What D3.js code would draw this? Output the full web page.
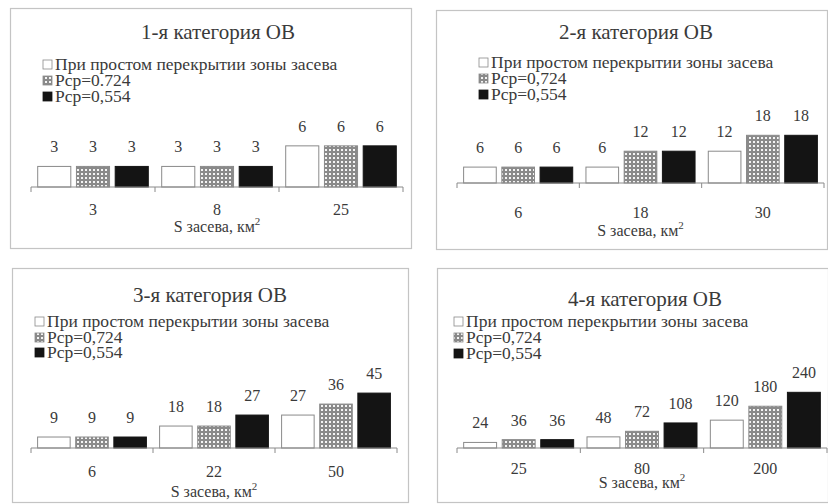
<!DOCTYPE html>
<html>
<head>
<meta charset="utf-8">
<script src="https://cdn.jsdelivr.net/npm/d3@7"></script>
</head>
<body style="margin:0;background:#fff">
<svg id="fig" width="828" height="504"></svg>
<script>
// ---- data ----
const panelTitles = ["1-я категория ОВ", "2-я категория ОВ", "3-я категория ОВ", "4-я категория ОВ"];
const xAxisTitle = "S засева, км";

const categories1 = ["3", "8", "25"];
const categories2 = ["6", "18", "30"];
const categories3 = ["6", "22", "50"];
const categories4 = ["25", "80", "200"];

const legend1 = ["При простом перекрытии зоны засева", "Рср=0.724", "Рср=0,554"];
const legend2 = ["При простом перекрытии зоны засева", "Рср=0,724", "Рср=0,554"];
const legend3 = ["При простом перекрытии зоны засева", "Рср=0,724", "Рср=0,554"];
const legend4 = ["При простом перекрытии зоны засева", "Рср=0,724", "Рср=0,554"];

const simple1 = [3, 3, 6],    p724_1 = [3, 3, 6],    p554_1 = [3, 3, 6];
const simple2 = [6, 6, 12],   p724_2 = [6, 12, 18],  p554_2 = [6, 12, 18];
const simple3 = [9, 18, 27],  p724_3 = [9, 18, 36],  p554_3 = [9, 27, 45];
const simple4 = [24, 48, 120], p724_4 = [36, 72, 180], p554_4 = [36, 108, 240];

const yMax = [7, 20, 50, 250];

const panels = [
  { title: panelTitles[0], cats: categories1, legend: legend1, series: [simple1, p724_1, p554_1], yMax: yMax[0] },
  { title: panelTitles[1], cats: categories2, legend: legend2, series: [simple2, p724_2, p554_2], yMax: yMax[1] },
  { title: panelTitles[2], cats: categories3, legend: legend3, series: [simple3, p724_3, p554_3], yMax: yMax[2] },
  { title: panelTitles[3], cats: categories4, legend: legend4, series: [simple4, p724_4, p554_4], yMax: yMax[3] }
];

// ---- layout of each chart box ----
const boxes = [
  { bx: 10,  by: 8,   bw: 401, bh: 240, tx: 218, ty: 39,  lx: 43,  ly: [65, 81, 97],    ax0: 31,  ax1: 403, ay: 187, ph: 48, cy: 215, aty: 232 },
  { bx: 436, by: 10,  bw: 391, bh: 239, tx: 636, ty: 39,  lx: 479, ly: [63, 79, 95],    ax0: 457, ax1: 824, ay: 183, ph: 53, cy: 218, aty: 236 },
  { bx: 12,  by: 268, bw: 396, bh: 234, tx: 210, ty: 302, lx: 35,  ly: [322, 338, 353], ax0: 31,  ax1: 397, ay: 448, ph: 61, cy: 477, aty: 497 },
  { bx: 437, by: 268, bw: 391, bh: 234, tx: 645, ty: 306, lx: 454, ly: [322, 338, 354], ax0: 457, ax1: 827, ay: 448, ph: 58, cy: 474, aty: 488 }
];

const svg = d3.select("#fig");
const textColor = "#3a3a3a";
const face = "'Liberation Serif'";

// text helper: serif face, grey ink
function label(sel, size) {
  return sel
    .attr("font-family", "Liberation Serif")
    .style("font-family", face)
    .attr("font-size", size)
    .attr("fill", textColor);
}

// hatched fill for the middle series: white cells on a grey grid
const defs = svg.append("defs");
const pat = defs.append("pattern")
  .attr("id", "grid").attr("patternUnits", "userSpaceOnUse")
  .attr("width", 4).attr("height", 4);
pat.append("rect").attr("width", 4).attr("height", 4).attr("fill", "#8a8a8a");
pat.append("rect").attr("x", 1).attr("y", 1).attr("width", 2).attr("height", 2).attr("fill", "#f4f4f4");

const fills = ["#ffffff", "url(#grid)", "#141414"];
const strokes = ["#8a8a8a", "#8a8a8a", "#141414"];

panels.forEach((p, i) => {
  const b = boxes[i];
  const g = svg.append("g");

  g.append("rect")
    .attr("x", b.bx + 0.5).attr("y", b.by + 0.5)
    .attr("width", b.bw).attr("height", b.bh)
    .attr("fill", "#fff").attr("stroke", "#c4c4c4").attr("stroke-width", 1.2);

  label(g.append("text"), 21)
    .attr("x", b.tx).attr("y", b.ty)
    .attr("text-anchor", "middle")
    .text(p.title);

  // legend
  p.legend.forEach((name, k) => {
    g.append("rect")
      .attr("x", b.lx).attr("y", b.ly[k] - 5)
      .attr("width", 9).attr("height", 9)
      .attr("fill", fills[k]).attr("stroke", strokes[k]).attr("stroke-width", 0.8);
    label(g.append("text"), 17.5)
      .attr("x", b.lx + 12).attr("y", b.ly[k] + 5)
      .text(name);
  });

  // scales
  const x0 = d3.scaleBand().domain(p.cats).range([b.ax0, b.ax1]).paddingInner(0.1).paddingOuter(0.05);
  const x1 = d3.scaleBand().domain(d3.range(p.series.length)).range([0, x0.bandwidth()]).paddingInner(0.12);
  const y = d3.scaleLinear().domain([0, p.yMax]).range([b.ay, b.ay - b.ph]);

  // bars with value labels
  p.series.forEach((vals, s) => {
    const gs = g.append("g");
    gs.selectAll("rect").data(vals).join("rect")
      .attr("x", (d, j) => x0(p.cats[j]) + x1(s) + 0.5)
      .attr("y", d => y(d))
      .attr("width", x1.bandwidth() - 1)
      .attr("height", d => y(0) - y(d))
      .attr("fill", fills[s]).attr("stroke", strokes[s]).attr("stroke-width", 1);
    label(gs.selectAll("text").data(vals).join("text"), 16)
      .attr("x", (d, j) => x0(p.cats[j]) + x1(s) + x1.bandwidth() / 2)
      .attr("y", d => y(d) - 14)
      .attr("text-anchor", "middle")
      .text(d => d);
  });

  // category axis: ticks on group boundaries
  const axisG = g.append("g").attr("transform", `translate(0,${b.ay})`);
  axisG.append("line")
    .attr("x1", b.ax0).attr("x2", b.ax1)
    .attr("stroke", "#8a8a8a").attr("stroke-width", 1);
  const bounds = d3.range(p.cats.length + 1).map(k => b.ax0 + k * (b.ax1 - b.ax0) / p.cats.length);
  axisG.selectAll("line.tick").data(bounds).join("line")
    .attr("class", "tick")
    .attr("x1", d => d).attr("x2", d => d)
    .attr("y1", 0).attr("y2", 5)
    .attr("stroke", "#8a8a8a");
  label(axisG.selectAll("text").data(p.cats).join("text"), 16)
    .attr("x", d => x0(d) + x0.bandwidth() / 2)
    .attr("y", b.cy - b.ay)
    .attr("text-anchor", "middle")
    .text(d => d);

  // axis title with superscript
  const at = label(g.append("text"), 16)
    .attr("x", (b.ax0 + b.ax1) / 2).attr("y", b.aty)
    .attr("text-anchor", "middle");
  at.append("tspan").text(xAxisTitle);
  at.append("tspan").attr("dy", -7).attr("font-size", 11).text("2");
});
</script>
</body>
</html>
